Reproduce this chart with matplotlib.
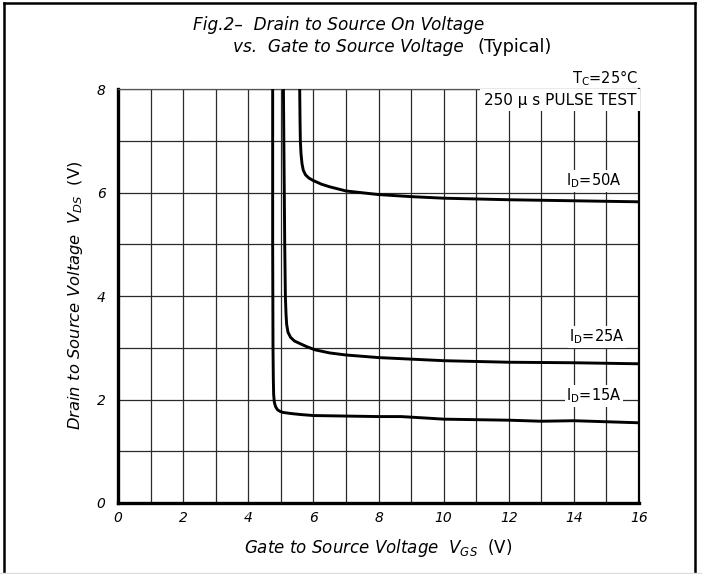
"""Drain to source on voltage vs gate to source voltage (typical)"""
import matplotlib
matplotlib.use("Agg")
import matplotlib.pyplot as plt
from matplotlib.lines import Line2D

# curves
vgs_15 = [4.75, 4.75, 4.76, 4.77, 4.78, 4.8, 4.84, 4.9, 4.98, 5.07, 5.3, 5.6, 6.0, 7.0, 8.0, 8.7, 9.5, 10.0, 11.0, 12.0, 13.0, 14.0, 15.0, 16.0]
vds_15 = [8.0, 5.0, 3.0, 2.4, 2.1, 1.95, 1.86, 1.8, 1.77, 1.75, 1.73, 1.71, 1.69, 1.68, 1.67, 1.67, 1.64, 1.62, 1.61, 1.60, 1.58, 1.59, 1.57, 1.55]

vgs_25 = [5.08, 5.1, 5.12, 5.14, 5.16, 5.18, 5.22, 5.3, 5.42, 5.59, 5.8, 6.05, 6.5, 7.0, 8.0, 9.0, 10.0, 12.0, 14.0, 16.0]
vds_25 = [8.0, 6.5, 5.0, 4.0, 3.65, 3.45, 3.3, 3.2, 3.13, 3.08, 3.02, 2.96, 2.9, 2.86, 2.81, 2.78, 2.75, 2.72, 2.71, 2.69]

vgs_50 = [5.58, 5.59, 5.6, 5.62, 5.65, 5.69, 5.76, 5.86, 6.0, 6.25, 6.5, 7.0, 8.0, 9.0, 10.0, 12.0, 14.0, 16.0]
vds_50 = [8.0, 7.4, 7.0, 6.75, 6.56, 6.43, 6.34, 6.28, 6.23, 6.16, 6.11, 6.03, 5.96, 5.92, 5.89, 5.86, 5.84, 5.82]

curve_labels = ["I$_{\\mathregular{D}}$=15A", "I$_{\\mathregular{D}}$=25A", "I$_{\\mathregular{D}}$=50A"]
label_pos = [(14.62, 2.07), (14.71, 3.21), (14.62, 6.22)]

x_ticks = list(range(0, 17, 2))
y_ticks = list(range(0, 9, 2))

fig = plt.figure(figsize=(7.02, 5.74), dpi=100)
ax = fig.add_axes([118 / 702, 71 / 574, 521 / 702, 414 / 574])

ax.set_xlim(0, 16)
ax.set_ylim(0, 8)
ax.set_xticks(range(0, 17))
ax.set_yticks(range(0, 9))
ax.grid(True, color="#2a2a2a", linewidth=0.9)
ax.set_axisbelow(True)
ax.set_xticklabels([str(t) if t in x_ticks else "" for t in range(0, 17)],
                   fontstyle="italic", fontsize=10)
ax.set_yticklabels([str(t) if t in y_ticks else "" for t in range(0, 9)],
                   fontstyle="italic", fontsize=10)
ax.tick_params(length=0, pad=6)
ax.tick_params(axis="y", pad=9)

for side, lw, col in [("left", 2.4, "black"), ("bottom", 2.4, "black"),
                      ("right", 1.6, "black"), ("top", 0.9, "#555555")]:
    ax.spines[side].set_linewidth(lw)
    ax.spines[side].set_color(col)

for xs, ys in [(vgs_15, vds_15), (vgs_25, vds_25), (vgs_50, vds_50)]:
    ax.plot(xs, ys, color="black", linewidth=2.1, solid_joinstyle="round",
            solid_capstyle="butt", zorder=3)

for txt, (x, y) in zip(curve_labels, label_pos):
    ax.text(x, y, txt, ha="center", va="center", fontsize=10.5, zorder=4,
            bbox=dict(facecolor="white", edgecolor="none", pad=1.0))

ax.text(15.92, 7.78, "250 \u03bc s PULSE TEST", ha="right", va="center",
        fontsize=11, zorder=4,
        bbox=dict(facecolor="white", edgecolor="none", pad=2.5))
fig.text(638 / 702, 1 - 78 / 574, "T$_{\\mathregular{C}}$=25\u00b0C", ha="right",
         va="center", fontsize=10.5)

# titles and axis labels
fig.text(193 / 702, 1 - 25 / 574, "Fig.2\u2013  Drain to Source On Voltage",
         ha="left", va="center", fontsize=12.2, fontstyle="italic")
fig.text(233 / 702, 1 - 47 / 574, "vs.  Gate to Source Voltage",
         ha="left", va="center", fontsize=12.2, fontstyle="italic")
fig.text(515 / 702, 1 - 47 / 574, "(Typical)", ha="center", va="center",
         fontsize=12.8)
fig.text(378 / 702, 1 - 548 / 574,
         "$\\mathit{Gate\\ to\\ Source\\ Voltage\\ \\ V_{GS}}$  (V)",
         ha="center", va="center", fontsize=12)
fig.text(76 / 702, 1 - 295 / 574,
         "$\\mathit{Drain\\ to\\ Source\\ Voltage\\ \\ V_{DS}}$  (V)",
         ha="center", va="center", fontsize=11.8, rotation=90)

# outer frame
fig.add_artist(Line2D([4 / 702, 4 / 702], [0, 1 - 3 / 574], color="black", linewidth=1.8))
fig.add_artist(Line2D([695 / 702, 695 / 702], [0, 1 - 3 / 574], color="black", linewidth=1.8))
fig.add_artist(Line2D([4 / 702, 695 / 702], [1 - 3 / 574, 1 - 3 / 574], color="black", linewidth=1.8))
fig.add_artist(Line2D([0, 1], [1.5 / 574, 1.5 / 574], color="#dddddd", linewidth=1.0))

fig.savefig("out.png", dpi=100)
